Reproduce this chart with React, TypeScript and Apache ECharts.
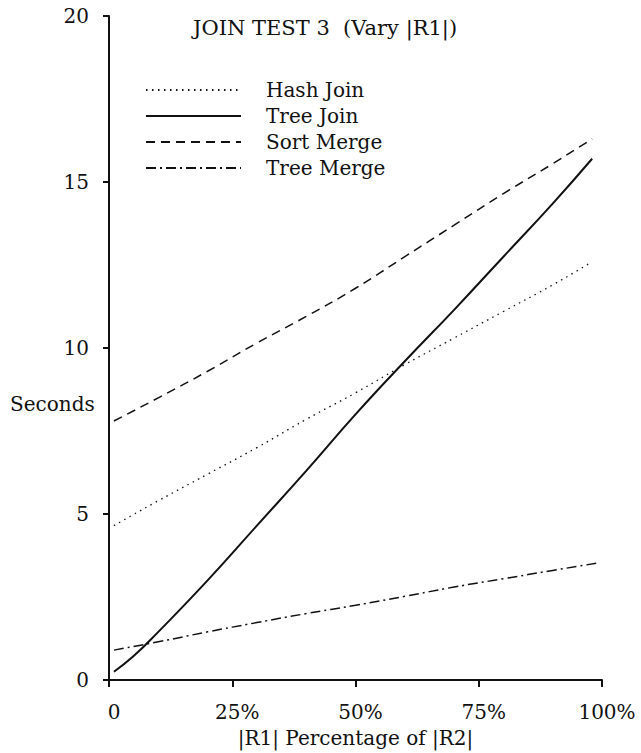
import React, { useEffect, useRef } from "react";
import * as echarts from "echarts";

const FONT = "DejaVu Serif";
const INK = "#111";

const seriesNames = ["Hash Join", "Tree Join", "Sort Merge", "Tree Merge"];
const pct = [1, 10, 20, 30, 40, 50, 60, 70, 80, 90, 98];
const hashJoin = [4.65, 5.4, 6.2, 7.0, 7.85, 8.65, 9.5, 10.3, 11.1, 11.9, 12.6];
const treeJoinPct = [1, 5, 10, 20, 30, 40, 50, 60, 70, 80, 90, 98];
const treeJoin = [0.25, 0.72, 1.45, 3.0, 4.65, 6.3, 8.0, 9.6, 11.15, 12.75, 14.35, 15.7];
const sortMerge = [7.8, 8.5, 9.3, 10.15, 10.95, 11.8, 12.75, 13.7, 14.65, 15.55, 16.3];
const treeMergePct = [1, 10, 20, 30, 40, 50, 60, 70, 80, 90, 99];
const treeMerge = [0.9, 1.15, 1.45, 1.73, 2.0, 2.25, 2.52, 2.8, 3.05, 3.3, 3.52];

const xTicks = [0, 25, 50, 75, 100];
const xTickLabels = ["0", "25%", "50%", "75%", "100%"];
const yTicks = [0, 5, 10, 15, 20];

const titleText = "JOIN TEST 3  (Vary |R1|)";
const xName = "|R1| Percentage of |R2|";
const yName = "Seconds";

function pairs(xs: number[], ys: number[]) {
  return xs.map((x, i) => [x, ys[i]]);
}

export default function App() {
  const ref = useRef<HTMLDivElement>(null);
  useEffect(() => {
    if (!ref.current) return;
    const chart = echarts.init(ref.current, null, { renderer: "svg" });
    const lineSeries = (name: string, data: number[][], lineStyle: any) => ({
      name,
      type: "line",
      data,
      symbol: "none",
      showSymbol: false,
      smooth: 0.5,
      lineStyle: { color: INK, ...lineStyle },
      itemStyle: { color: INK },
    });
    chart.setOption({
      animation: false,
      backgroundColor: "#fff",
      title: {
        text: titleText,
        left: 193,
        top: 17,
        padding: 0,
        textStyle: { fontFamily: FONT, fontSize: 21, fontWeight: "normal", color: INK },
      },
      legend: {
        orient: "vertical",
        left: 145,
        top: 80,
        padding: 0,
        itemWidth: 95,
        itemHeight: 14,
        itemGap: 6,
        data: seriesNames,
        itemStyle: { color: "transparent", borderColor: "transparent", borderWidth: 0, opacity: 0 },
        textStyle: {
          fontFamily: FONT,
          fontSize: 20,
          color: INK,
          lineHeight: 20,
          padding: [0, 0, 0, 20],
        },
      },
      grid: { left: 109, right: 39, top: 16, bottom: 73, containLabel: false, outerBoundsMode: "none" },
      xAxis: {
        type: "value",
        min: xTicks[0],
        max: xTicks[xTicks.length - 1],
        interval: 25,
        name: xName,
        nameLocation: "middle",
        nameGap: 48,
        nameTextStyle: { fontFamily: FONT, fontSize: 20, color: INK },
        axisLine: { show: true, lineStyle: { color: INK, width: 2 } },
        axisTick: { show: true, inside: false, length: 7, lineStyle: { color: INK, width: 2 } },
        axisLabel: {
          margin: 22,
          fontFamily: FONT,
          fontSize: 20,
          color: INK,
          padding: [0, 0, 0, 10],
          formatter: (v: number) => xTickLabels[xTicks.indexOf(v)] ?? "",
        },
        splitLine: { show: false },
      },
      yAxis: {
        type: "value",
        min: yTicks[0],
        max: yTicks[yTicks.length - 1],
        interval: 5,
        axisLine: { show: true, lineStyle: { color: INK, width: 2 } },
        axisTick: { show: true, inside: false, length: 6, lineStyle: { color: INK, width: 2 } },
        axisLabel: { margin: 20, fontFamily: FONT, fontSize: 20, color: INK },
        splitLine: { show: false },
      },
      graphic: [
        {
          type: "text",
          left: 10,
          top: 394,
          style: { text: yName, fontFamily: FONT, fontSize: 20, fill: INK },
        },
      ],
      series: [
        lineSeries(seriesNames[0], pairs(pct, hashJoin), { width: 1.3, type: [1.5, 4.5] }),
        lineSeries(seriesNames[1], pairs(treeJoinPct, treeJoin), { width: 2, type: "solid" }),
        lineSeries(seriesNames[2], pairs(pct, sortMerge), { width: 1.5, type: [9, 6] }),
        lineSeries(seriesNames[3], pairs(treeMergePct, treeMerge), { width: 1.5, type: [10, 4, 2, 4] }),
      ],
    });
    return () => chart.dispose();
  }, []);
  return (
    <div
      ref={ref}
      style={{ position: "fixed", left: 0, top: 0, width: 641, height: 753, background: "#fff" }}
    />
  );
}
